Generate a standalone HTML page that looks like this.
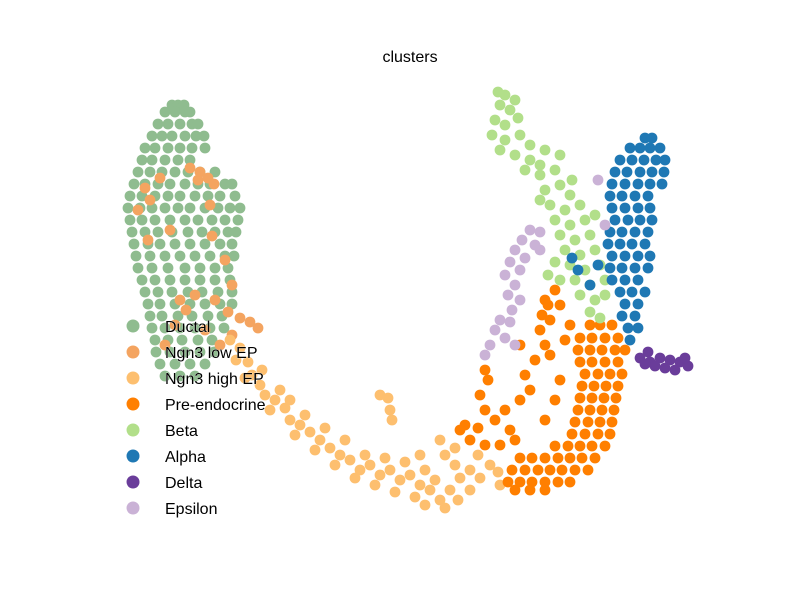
<!DOCTYPE html>
<html>
<head>
<meta charset="utf-8">
<style>
  html, body { margin: 0; padding: 0; background: #fff; }
  svg { display: block; font-family: "Liberation Sans", "DejaVu Sans", sans-serif; }
</style>
</head>
<body>
<svg id="chart" width="800" height="600" viewBox="0 0 800 600">
  <rect width="800" height="600" fill="#ffffff"></rect>
  <text x="410" y="62" text-anchor="middle" font-size="16" fill="#000">clusters</text>
  <g id="points"></g>
  <g id="legend"></g>
</svg>
<script>
// ---- data (embedding coordinates, flat x,y pairs) ----
const categories = ["Ductal", "Ngn3 low EP", "Ngn3 high EP", "Pre-endocrine", "Beta", "Alpha", "Delta", "Epsilon"];
const colors = ["#8fbc8f", "#f4a460", "#fdbf6f", "#ff7f00", "#b2df8a", "#1f78b4", "#6a3d9a", "#cab2d6"];

const ductal = [
172,105,178,105,184,105,
165,112,175,112,185,112,190,112,
158,124,168,124,180,124,192,124,198,124,
152,136,162,136,172,136,185,136,196,136,204,136,
145,148,155,148,168,148,180,148,192,148,205,148,
142,160,152,160,165,160,178,160,190,160,
138,172,150,172,162,172,175,172,188,172,200,172,215,172,
134,184,145,184,158,184,170,184,185,184,198,184,210,184,225,184,232,184,
130,196,142,196,155,196,168,196,180,196,195,196,208,196,220,196,235,196,
128,208,140,208,152,208,165,208,178,208,190,208,205,208,218,208,230,208,240,208,
130,220,142,220,155,220,170,220,185,220,198,220,212,220,225,220,238,220,
132,232,145,232,158,232,172,232,188,232,202,232,215,232,228,232,236,232,
134,244,148,244,160,244,175,244,190,244,205,244,220,244,232,244,
136,256,150,256,165,256,180,256,195,256,210,256,225,256,234,256,
138,268,152,268,168,268,185,268,200,268,215,268,228,268,
142,280,155,280,170,280,185,280,200,280,215,280,230,280,
145,292,158,292,172,292,188,292,202,292,218,292,232,292,
148,304,160,304,175,304,190,304,205,304,220,304,232,304,
150,316,162,316,178,316,192,316,208,316,222,316,
152,328,165,328,180,328,195,328,210,328,224,328,
155,340,168,340,182,340,198,340,212,340,
156,352,170,352,185,352,200,352,214,352,
160,364,175,364,190,364,205,364,
165,376,180,376,195,376
];
const ngn3Low = [
200,172,208,178,214,184,198,180,190,168,145,188,150,200,160,178,138,210,212,236,
225,260,232,285,180,300,195,295,215,300,228,312,240,318,250,322,258,328,175,325,
165,345,205,330,220,345,232,335,186,310,148,240,170,230,210,205
];
const ngn3High = [
230,340,240,348,236,360,248,362,252,375,260,385,245,378,265,395,275,400,270,410,
285,408,290,420,300,425,295,435,310,432,320,440,315,450,330,448,340,455,335,465,
350,460,360,470,355,478,370,465,380,475,375,485,390,470,400,480,395,492,410,475,
420,485,415,497,430,490,440,500,445,508,425,505,435,480,450,490,460,478,470,470,
480,478,490,465,498,472,455,465,445,455,405,462,385,458,365,455,345,440,325,428,
305,415,290,400,262,370,280,390,388,398,380,395,390,410,392,420,500,485,470,490,
458,500,425,470,440,440,455,448,420,455,478,455
];
const preEndocrine = [
590,325,600,325,612,325,
580,338,592,338,605,338,618,338,
578,350,590,350,602,350,615,350,625,350,
580,362,592,362,605,362,618,362,
585,374,598,374,610,374,622,374,
582,386,594,386,606,386,618,386,
580,398,592,398,604,398,616,398,
578,410,590,410,602,410,614,410,
575,422,588,422,600,422,612,422,
572,434,585,434,598,434,610,434,
555,446,568,446,580,446,592,446,605,446,
520,458,532,458,545,458,558,458,570,458,582,458,595,458,
512,470,525,470,538,470,550,470,562,470,575,470,588,470,
508,482,520,482,532,482,545,482,558,482,570,482,
515,490,530,490,545,490,
470,440,478,428,465,425,485,410,480,395,488,380,485,370,495,420,510,430,505,410,
520,400,530,390,525,375,535,360,545,345,540,330,550,320,560,305,545,300,555,290,
570,325,565,340,550,355,520,345,515,440,500,445,485,445,460,430,545,420,555,400,
560,380,548,305,542,315
];
const beta = [
505,95,500,105,510,110,495,120,505,125,518,118,492,135,505,140,520,135,530,145,
500,150,515,155,530,160,545,150,560,155,555,170,540,175,525,170,545,190,560,185,
570,195,550,205,565,210,580,205,555,220,570,225,585,220,595,215,560,235,575,240,
590,235,565,250,580,255,595,250,570,265,585,270,600,265,575,280,590,285,605,280,
580,295,595,300,605,295,590,312,600,318,540,165,572,180,515,100,498,92,540,200,
555,262,548,275,560,280
];
const alpha = [
645,138,652,138,
630,148,640,148,650,148,660,148,
620,160,632,160,644,160,656,160,665,160,
615,172,627,172,640,172,652,172,664,172,
612,184,625,184,638,184,650,184,662,184,
610,196,622,196,635,196,648,196,
612,208,625,208,638,208,650,208,
615,220,628,220,640,220,652,220,
610,232,622,232,635,232,648,232,
608,244,620,244,632,244,645,244,
612,256,625,256,638,256,650,256,
610,268,622,268,635,268,648,268,
612,280,625,280,638,280,
620,292,632,292,645,292,
625,304,638,304,
622,316,635,316,
628,328,638,328,
630,340,
598,265,590,285,578,270,572,258
];
const delta = [
640,358,650,362,660,358,670,360,680,362,688,366,675,370,665,368,655,366,648,352,645,364,685,358
];
const epsilon = [
530,230,540,232,522,240,535,245,515,250,525,258,540,250,510,262,520,270,505,275,
515,285,508,295,520,300,512,310,500,320,510,322,495,330,505,338,490,345,485,355,
515,345,598,180,605,225
];
const seriesValues = [ductal, ngn3Low, ngn3High, preEndocrine, beta, alpha, delta, epsilon];

// ---- axis functions (embedding units -> pixels) ----
const xScale = v => 0 + v * 1;
const yScale = v => 0 + v * 1;

const NS = "http://www.w3.org/2000/svg";
const gPts = document.getElementById("points");
seriesValues.forEach((arr, ci) => {
  const g = document.createElementNS(NS, "g");
  
  
  g.setAttribute("fill", colors[ci]);
  for (let i = 0; i + 1 < arr.length; i += 2) {
    const c = document.createElementNS(NS, "circle");
    c.setAttribute("cx", xScale(arr[i]));
    c.setAttribute("cy", yScale(arr[i + 1]));
    c.setAttribute("r", 5.4);
    
    
    g.appendChild(c);
  }
  gPts.appendChild(g);
});

const gLeg = document.getElementById("legend");
categories.forEach((name, i) => {
  const y = 326 + i * 26;
  const c = document.createElementNS(NS, "circle");
  c.setAttribute("cx", 133);
  c.setAttribute("cy", y);
  c.setAttribute("r", 6.5);
  c.setAttribute("fill", colors[i]);
  
  
  gLeg.appendChild(c);
  const t = document.createElementNS(NS, "text");
  t.setAttribute("x", 165);
  t.setAttribute("y", y + 6);
  t.setAttribute("font-size", "16");
  t.setAttribute("fill", "#000");
  t.setAttribute("paint-order", "stroke");
  t.setAttribute("stroke", "#ffffff");
  t.setAttribute("stroke-width", "0.5");
  t.textContent = name;
  
  
  gLeg.appendChild(t);
});
</script>
</body>
</html>
